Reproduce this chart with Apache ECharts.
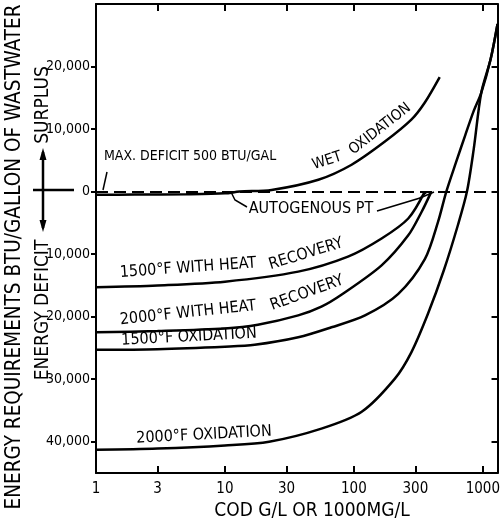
<!DOCTYPE html>
<html>
<head>
<meta charset="utf-8">
<script src="https://cdn.jsdelivr.net/npm/echarts@6/dist/echarts.min.js"></script>
<style>
  html, body { margin: 0; padding: 0; background: #fff; }
  #chart { width: 503px; height: 526px; }
</style>
</head>
<body>
<div id="chart"></div>
<script>
// COD (g/L) and energy requirement (BTU/gal, + surplus / - deficit)
var xTicks = [1, 3, 10, 30, 100, 300, 1000];
var yTicks = [-40000, -30000, -20000, -10000, 0, 10000, 20000];

var wetX = [1, 2, 5, 10, 13, 23, 53, 96, 174, 279, 354, 463];
var wetY = [-500, -480, -420, -280, 0, 270, 1900, 4300, 8000, 11500, 14200, 18300];

var hr1500X = [1, 3, 10, 37, 90, 164, 264, 355];
var hr1500Y = [-15300, -15000, -14400, -12800, -10400, -7500, -4300, 0];

var hr2000X = [1, 3, 10, 18, 37, 56, 80, 164, 264, 334, 399];
var hr2000Y = [-22500, -22300, -21900, -21300, -19800, -18400, -16500, -11800, -7000, -3300, 0];

var ox1500X = [1, 3, 10, 17, 37, 67, 122, 220, 355, 450, 521, 620, 730, 850, 972, 1150, 1300];
var ox1500Y = [-25300, -25200, -24800, -24500, -23300, -21700, -19800, -16400, -10800, -4800, 0, 4700, 9000, 12900, 15800, 21200, 26800];

var ox2000X = [1, 3, 10, 22, 56, 115, 208, 279, 376, 500, 642, 753, 850, 972, 1150, 1300];
var ox2000Y = [-41300, -41100, -40600, -40000, -37900, -35200, -29900, -25700, -19500, -12500, -5300, 0, 6800, 15800, 21200, 26800];

var FF = "'Liberation Sans Narrow', 'DejaVu Sans Condensed', 'Liberation Sans', sans-serif";

function pairs(xs, ys) {
    return xs.map(function (x, i) { return [x, ys[i]]; });
}

function curve(name, xs, ys) {
    return {
        name: name,
        type: 'line',
        data: pairs(xs, ys),
        symbol: 'none',
        smooth: 0.3,
        lineStyle: { color: '#000', width: 2.5 },
        z: 3
    };
}

function label(text, x, y, deg, size, align) {
    return {
        type: 'text',
        x: x, y: y,
        rotation: deg * Math.PI / 180,
        style: {
            text: text,
            fill: '#000',
            fontFamily: FF,
            fontSize: size,
            align: align || 'center',
            verticalAlign: 'middle'
        }
    };
}

function seg(points, w) {
    return {
        type: 'polyline',
        shape: { points: points },
        style: { stroke: '#000', lineWidth: w || 1.5, fill: null }
    };
}

var axisLine = { show: true, onZero: false, lineStyle: { color: '#000', width: 2 } };

var option = {
    animation: false,
    backgroundColor: '#fff',
    grid: { left: 96, right: 4, top: 4, bottom: 53 },
    xAxis: [
        {
            type: 'log', logBase: 10, min: 1, max: 1300, position: 'bottom',
            axisLine: axisLine,
            axisTick: { inside: true, length: 7, lineStyle: { color: '#000', width: 2 }, customValues: xTicks.slice(1) },
            axisLabel: {
                customValues: xTicks, color: '#000', fontFamily: FF, fontSize: 15, margin: 9,
                formatter: function (v) { return String(Math.round(v)); }
            },
            splitLine: { show: false }
        },
        {
            type: 'log', logBase: 10, min: 1, max: 1300, position: 'top',
            axisLine: axisLine,
            axisTick: { inside: true, length: 7, lineStyle: { color: '#000', width: 2 }, customValues: xTicks.slice(1) },
            axisLabel: { show: false },
            splitLine: { show: false }
        }
    ],
    yAxis: [
        {
            type: 'value', min: -45000, max: 30000, position: 'left',
            axisLine: axisLine,
            axisTick: { inside: false, length: 5, lineStyle: { color: '#000', width: 2 }, customValues: yTicks },
            axisLabel: {
                customValues: yTicks, color: '#000', fontFamily: FF, fontSize: 14, margin: 6,
                formatter: function (v) { return Math.abs(v).toLocaleString('en-US'); }
            },
            splitLine: { show: false }
        },
        {
            type: 'value', min: -45000, max: 30000, position: 'right',
            axisLine: axisLine,
            axisTick: { inside: true, length: 6, lineStyle: { color: '#000', width: 2 }, customValues: yTicks },
            axisLabel: { show: false },
            splitLine: { show: false }
        }
    ],
    series: [
        {
            name: 'zero',
            type: 'line',
            data: [],
            markLine: {
                silent: true,
                symbol: 'none',
                label: { show: false },
                lineStyle: { color: '#000', width: 2, type: [12, 6] },
                data: [{ yAxis: 0 }]
            }
        },
        curve('Wet oxidation', wetX, wetY),
        curve('1500°F with heat recovery', hr1500X, hr1500Y),
        curve('2000°F with heat recovery', hr2000X, hr2000Y),
        curve('1500°F oxidation', ox1500X, ox1500Y),
        curve('2000°F oxidation', ox2000X, ox2000Y)
    ],
    graphic: [
        // axis titles
        label('COD G/L OR 1000MG/L', 312, 511, 0, 19),
        label('ENERGY REQUIREMENTS BTU/GALLON OF WASTWATER', 15, 257, 90, 20.5),
        label('SURPLUS', 43, 105, 90, 19),
        label('ENERGY DEFICIT', 43, 310, 90, 19),
        seg([[33, 190], [74, 190]], 2.5),
        seg([[43, 152], [43, 228]], 2.5),
        { type: 'polygon', shape: { points: [[43, 148], [39.5, 160], [46.5, 160]] }, style: { fill: '#000' } },
        { type: 'polygon', shape: { points: [[43, 232], [39.5, 220], [46.5, 220]] }, style: { fill: '#000' } },

        // curve annotations
        label('MAX. DEFICIT 500 BTU/GAL', 104, 156, 0, 14, 'left'),
        seg([[107, 172], [103, 190]], 1.5),
        label('WET', 327, 161, 18, 15),
        label('OXIDATION', 380, 129, 38, 15),
        label('AUTOGENOUS PT', 311, 209, 0, 16),
        seg([[231, 192], [235, 200], [247, 207]], 1.5),
        seg([[377, 211], [420, 198], [427, 192]], 1.5),
        seg([[420, 198], [434, 192]], 1.5),
        label('1500°F WITH HEAT', 188, 268, 4, 16),
        label('RECOVERY', 306, 254, 17, 16),
        label('2000°F WITH HEAT', 188, 313, 6, 16),
        label('RECOVERY', 307, 293, 20, 16),
        label('1500°F OXIDATION', 189, 337, 3, 16),
        label('2000°F OXIDATION', 204, 435, 3, 16)
    ]
};

var myChart = echarts.init(document.getElementById('chart'));
myChart.setOption(option);
</script>
</body>
</html>
